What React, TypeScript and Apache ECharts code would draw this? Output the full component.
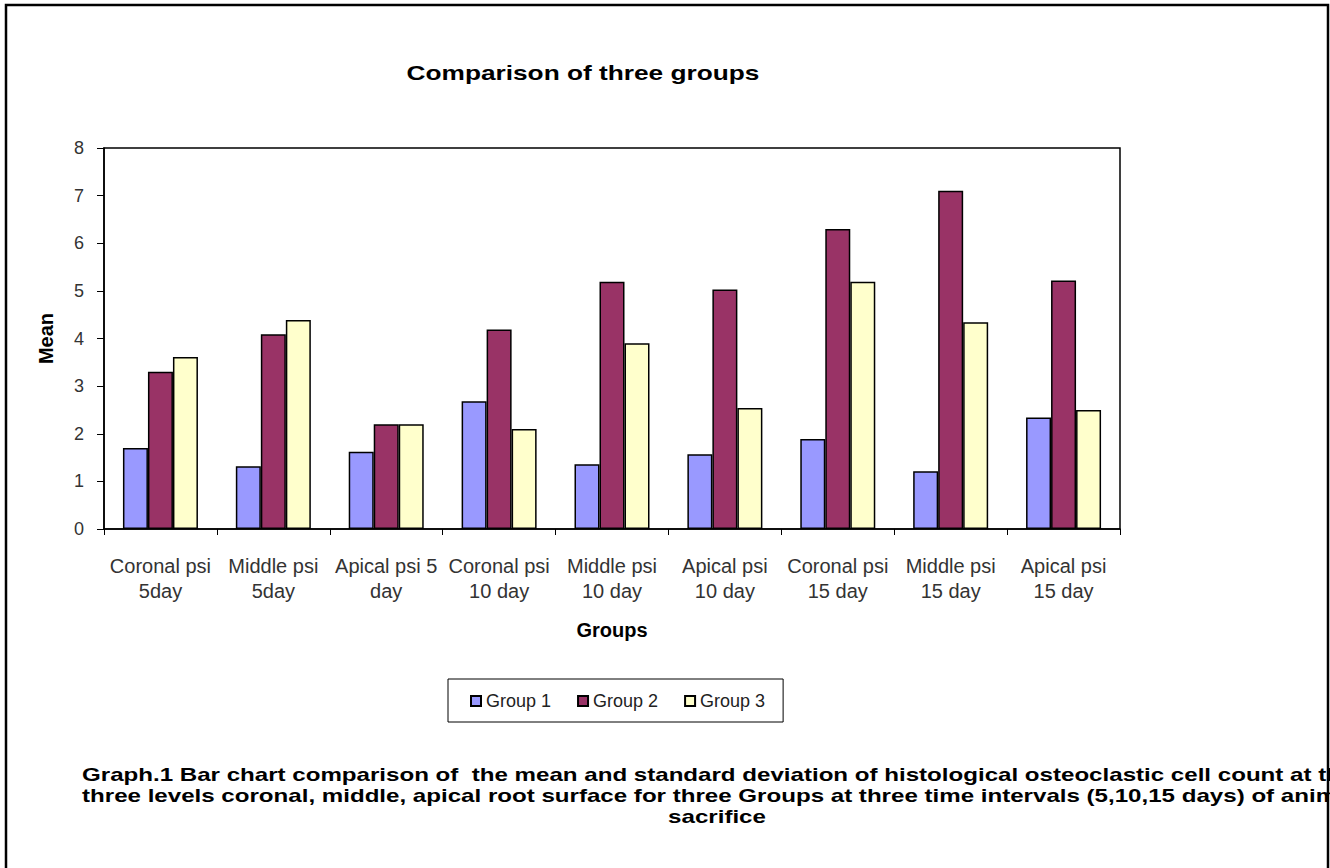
import React, { useEffect, useRef } from "react";
import * as echarts from "echarts";

const categories = [
  "Coronal psi\n5day",
  "Middle psi\n5day",
  "Apical psi 5\nday",
  "Coronal psi\n10 day",
  "Middle psi\n10 day",
  "Apical psi\n10 day",
  "Coronal psi\n15 day",
  "Middle psi\n15 day",
  "Apical psi\n15 day",
];
const group1 = [1.7, 1.32, 1.62, 2.68, 1.36, 1.57, 1.89, 1.21, 2.34];
const group2 = [3.3, 4.09, 2.2, 4.19, 5.19, 5.03, 6.3, 7.1, 5.22];
const group3 = [3.61, 4.39, 2.2, 2.1, 3.9, 2.54, 5.19, 4.34, 2.5];
const seriesNames = ["Group 1", "Group 2", "Group 3"];
const seriesColors = ["#9999FF", "#993366", "#FFFFCC"];

const titleText = "Comparison of three groups";
const captionLines = [
  "Graph.1 Bar chart comparison of  the mean and standard deviation of histological osteoclastic cell count at the",
  "three levels coronal, middle, apical root surface for three Groups at three time intervals (5,10,15 days) of animal",
  "sacrifice",
];

const FONT = "'Liberation Sans', Arial, sans-serif";

export default function App() {
  const ref = useRef<HTMLDivElement>(null);
  useEffect(() => {
    if (!ref.current) return;
    const chart = echarts.init(ref.current, undefined, { renderer: "svg" });
    const data = [group1, group2, group3];
    const captionStyle = (text: string, align: string) => ({
      text,
      font: `bold 18px ${FONT}`,
      fill: "#000",
      textAlign: align,
      textVerticalAlign: "middle",
    });
    chart.setOption({
      animation: false,
      backgroundColor: "#ffffff",
      textStyle: { fontFamily: FONT },
      grid: {
        left: 104,
        top: 148,
        right: 210,
        bottom: 339,
        show: true,
        borderColor: "#000",
        borderWidth: 1.5,
        backgroundColor: "transparent",
      },
      legend: {
        left: 448,
        top: 679,
        orient: "horizontal",
        padding: [13, 18, 12, 22],
        itemGap: 26,
        itemWidth: 10,
        itemHeight: 10,
        borderColor: "#000",
        borderWidth: 1,
        icon: "rect",
        textStyle: { fontFamily: FONT, fontSize: 18, color: "#222" },
        data: seriesNames,
      },
      xAxis: {
        type: "category",
        data: categories,
        name: "Groups",
        nameLocation: "middle",
        nameGap: 91,
        nameTextStyle: { fontFamily: FONT, fontSize: 20, fontWeight: "bold", color: "#000" },
        axisLine: { lineStyle: { color: "#000", width: 1.5 } },
        axisTick: { show: true, length: 6, lineStyle: { color: "#000", width: 1 } },
        axisLabel: {
          interval: 0,
          hideOverlap: false,
          margin: 24,
          fontFamily: FONT,
          fontSize: 20,
          lineHeight: 25,
          color: "#333",
        },
        splitLine: { show: false },
      },
      yAxis: {
        type: "value",
        min: 0,
        max: 8,
        interval: 1,
        name: "Mean",
        nameLocation: "middle",
        nameGap: 48,
        nameRotate: 90,
        nameTextStyle: { fontFamily: FONT, fontSize: 20, fontWeight: "bold", color: "#000" },
        axisLine: { show: true, lineStyle: { color: "#000", width: 1.5 } },
        axisTick: { show: true, length: 7, lineStyle: { color: "#000", width: 1 } },
        axisLabel: { margin: 20, fontFamily: FONT, fontSize: 18, color: "#333" },
        splitLine: { show: false },
      },
      series: seriesNames.map((name, i) => ({
        name,
        type: "bar",
        data: data[i],
        barWidth: 25,
        barGap: "0%",
        itemStyle: { color: seriesColors[i], borderColor: "#000", borderWidth: 1.5 },
      })),
      graphic: [
        {
          type: "text",
          x: 583,
          y: 72,
          scaleX: 1.25,
          style: {
            text: titleText,
            font: `bold 21px ${FONT}`,
            fill: "#000",
            textAlign: "center",
            textVerticalAlign: "middle",
          },
        },
        { type: "text", x: 82, y: 775, scaleX: 1.34, style: captionStyle(captionLines[0], "left") },
        { type: "text", x: 82, y: 796, scaleX: 1.34, style: captionStyle(captionLines[1], "left") },
        { type: "text", x: 717, y: 817, scaleX: 1.34, style: captionStyle(captionLines[2], "center") },
        {
          type: "rect",
          silent: true,
          z: 100,
          shape: { x: 6, y: 5, width: 1322, height: 900 },
          style: { fill: "none", stroke: "#000", lineWidth: 2.5 },
        },
      ],
    });
    return () => chart.dispose();
  }, []);
  return (
    <div
      ref={ref}
      style={{ position: "fixed", left: 0, top: 0, width: 1330, height: 868, background: "#fff" }}
    />
  );
}
